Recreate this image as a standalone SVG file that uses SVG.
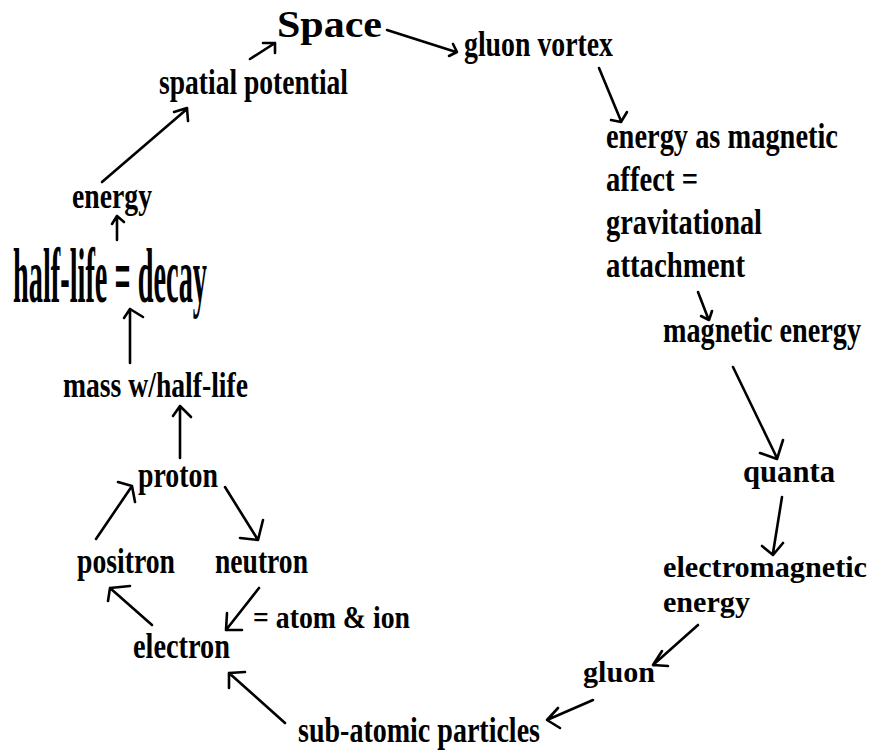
<svg xmlns="http://www.w3.org/2000/svg" width="878" height="755" viewBox="0 0 878 755">
<style>
.t{font-family:"Liberation Serif","Times New Roman",serif;font-weight:bold;fill:#000}
.c{font-size:35px}
.n{font-size:30px}
.a{fill:none;stroke:#000;stroke-width:2.6;stroke-linecap:round;stroke-linejoin:round}
</style>
<rect width="878" height="755" fill="#fff"/>
<g id="connectors">
<path class="a" d="M387,30 L456,52 M449,56 L457,52 L453,44"/>
<path class="a" d="M599,68 L621,121 M611,120 L621,122 L627,112"/>
<path class="a" d="M698,292 L708,318 M701,316 L709,320 L712,311"/>
<path class="a" d="M733,367 L777,458 M760,453 L777,459 L783,440"/>
<path class="a" d="M782,497 L773,553 M762,546 L773,555 L783,543"/>
<path class="a" d="M698,625 L653,665 M662,651 L653,665 L668,666"/>
<path class="a" d="M593,700 L547,720 M558,708 L547,720 L560,728"/>
<path class="a" d="M285,723 L229,673 M245,672 L229,673 L229,688"/>
<path class="a" d="M259,588 L226,630 M227,613 L226,630 L242,630"/>
<path class="a" d="M152,625 L110,588 M130,586 L110,588 L108,601"/>
<path class="a" d="M96,539 L132,486 M118,482 L132,486 L135,502"/>
<path class="a" d="M225,487 L258,540 M240,538 L258,540 L263,520"/>
<path class="a" d="M180,458 L180,406 M173,416 L180,406 L191,417"/>
<path class="a" d="M130,363 L130,309 M124,318 L130,309 L143,317"/>
<path class="a" d="M117,240 L117,216 M112,224 L117,216 L124,222"/>
<path class="a" d="M102,182 L187,109 M174,112 L187,108 L188,121"/>
<path class="a" d="M250,59 L275,43 M263,43 L275,43 L275,53"/>
</g>
<g id="space"><text class="t" x="277" y="37" font-size="38" textLength="105" lengthAdjust="spacingAndGlyphs">Space</text></g>
<g id="gluon-vortex"><text class="t c" x="464" y="56" textLength="149" lengthAdjust="spacingAndGlyphs">gluon vortex</text></g>
<g id="energy-as-magnetic">
<text class="t c" transform="translate(606,148) scale(0.81,1)" x="0" y="0" textLength="286.4" lengthAdjust="spacingAndGlyphs">energy as magnetic</text>
<text class="t c" x="606" y="191" textLength="92" lengthAdjust="spacingAndGlyphs">affect =</text>
<text class="t c" x="606" y="234" textLength="156" lengthAdjust="spacingAndGlyphs">gravitational</text>
<text class="t c" x="606" y="277" textLength="139" lengthAdjust="spacingAndGlyphs">attachment</text>
</g>
<g id="magnetic-energy"><text class="t c" transform="translate(663,342) scale(0.8,1)" x="0" y="0" textLength="247.5" lengthAdjust="spacingAndGlyphs">magnetic energy</text></g>
<g id="quanta"><text class="t" x="743" y="482" font-size="31" textLength="92" lengthAdjust="spacingAndGlyphs">quanta</text></g>
<g id="electromagnetic-energy">
<text class="t n" x="663" y="577" textLength="204" lengthAdjust="spacingAndGlyphs">electromagnetic</text>
<text class="t n" x="663" y="612" textLength="87" lengthAdjust="spacingAndGlyphs">energy</text>
</g>
<g id="gluon"><text class="t n" x="583" y="682" textLength="72" lengthAdjust="spacingAndGlyphs">gluon</text></g>
<g id="sub-atomic-particles"><text class="t c" x="298" y="742" textLength="242" lengthAdjust="spacingAndGlyphs">sub-atomic particles</text></g>
<g id="electron"><text class="t c" x="133" y="658" textLength="97" lengthAdjust="spacingAndGlyphs">electron</text></g>
<g id="atom-ion"><text class="t" x="253" y="628" font-size="32" textLength="157" lengthAdjust="spacingAndGlyphs">= atom &amp; ion</text></g>
<g id="positron"><text class="t c" x="77" y="573" textLength="98" lengthAdjust="spacingAndGlyphs">positron</text></g>
<g id="neutron"><text class="t c" x="215" y="573" textLength="93" lengthAdjust="spacingAndGlyphs">neutron</text></g>
<g id="proton"><text class="t c" x="138" y="487" textLength="80" lengthAdjust="spacingAndGlyphs">proton</text></g>
<g id="mass-half-life"><text class="t c" x="63" y="397" textLength="185" lengthAdjust="spacingAndGlyphs">mass w/half-life</text></g>
<g id="half-life-decay"><text class="t" x="13" y="302" font-size="78" textLength="194" lengthAdjust="spacingAndGlyphs">half-life = decay</text></g>
<g id="energy"><text class="t c" x="72" y="208" textLength="80" lengthAdjust="spacingAndGlyphs">energy</text></g>
<g id="spatial-potential"><text class="t c" x="159" y="94" textLength="189" lengthAdjust="spacingAndGlyphs">spatial potential</text></g>
</svg>
